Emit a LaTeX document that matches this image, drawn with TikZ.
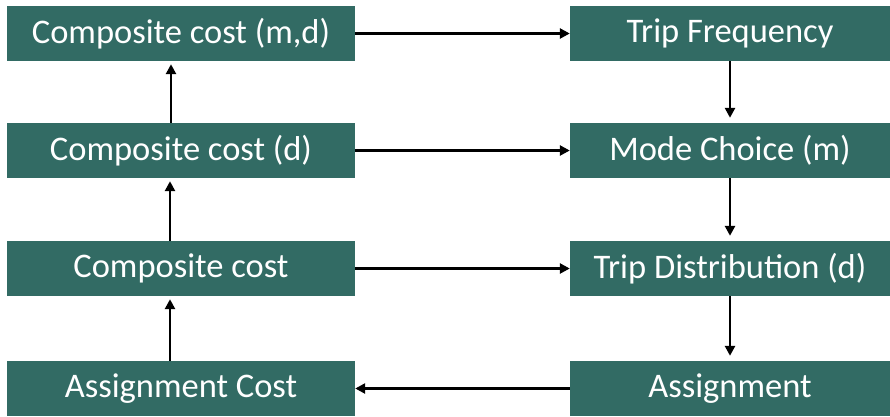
\documentclass[tikz,border=0pt]{standalone}
\usepackage{fontspec}
\setmainfont{Carlito}
\usepackage{xcolor}
\usepackage{tikz}
\usetikzlibrary{arrows.meta}

\definecolor{stepteal}{HTML}{326B64}

\begin{document}
\begin{tikzpicture}[x=1pt,y=1pt,
    costbox/.style={fill=stepteal,text=white,inner sep=0pt,minimum height=55pt,
      minimum width=348pt,font=\fontsize{34.5}{38}\selectfont},
    modelbox/.style={costbox,minimum width=320pt},
    flow/.style={-{Triangle[length=10pt,width=10pt]},line width=2.8pt}]
    \useasboundingbox (0,0) rectangle (890,-416);

    % Left column: composite costs
    \node[costbox] (cmd) at (181,-33.5) {Composite cost (m,d)};
    \node[costbox] (cd)  at (181,-150.5) {Composite cost (d)};
    \node[costbox] (cc)  at (181,-268.5) {Composite cost};
    \node[costbox] (ac)  at (181,-388.5) {Assignment Cost};

    % Right column: model steps
    \node[modelbox] (tf) at (730,-33.5) {Trip Frequency};
    \node[modelbox] (mc) at (730,-150.5) {Mode Choice (m)};
    \node[modelbox] (td) at (730,-268.5) {Trip Distribution (d)};
    \node[modelbox] (as) at (730,-388.5) {Assignment};

    % Upward arrows on the left
    \draw[flow] ([xshift=-11pt]ac.north) -- ([xshift=-11pt,yshift=-3pt]cc.south);
    \draw[flow] ([xshift=-11pt]cc.north) -- ([xshift=-11pt,yshift=-3pt]cd.south);
    \draw[flow] ([xshift=-10pt]cd.north) -- ([xshift=-10pt,yshift=-3pt]cmd.south);

    % Downward arrows on the right
    \draw[flow] (tf.south) -- ([yshift=5pt]mc.north);
    \draw[flow] (mc.south) -- ([yshift=5pt]td.north);
    \draw[flow] (td.south) -- ([yshift=5pt]as.north);

    % Across
    \draw[flow] (cmd.east) -- (tf.west);
    \draw[flow] (cd.east) -- (mc.west);
    \draw[flow] (cc.east) -- (td.west);
    \draw[flow] (as.west) -- (ac.east);
\end{tikzpicture}
\end{document}
